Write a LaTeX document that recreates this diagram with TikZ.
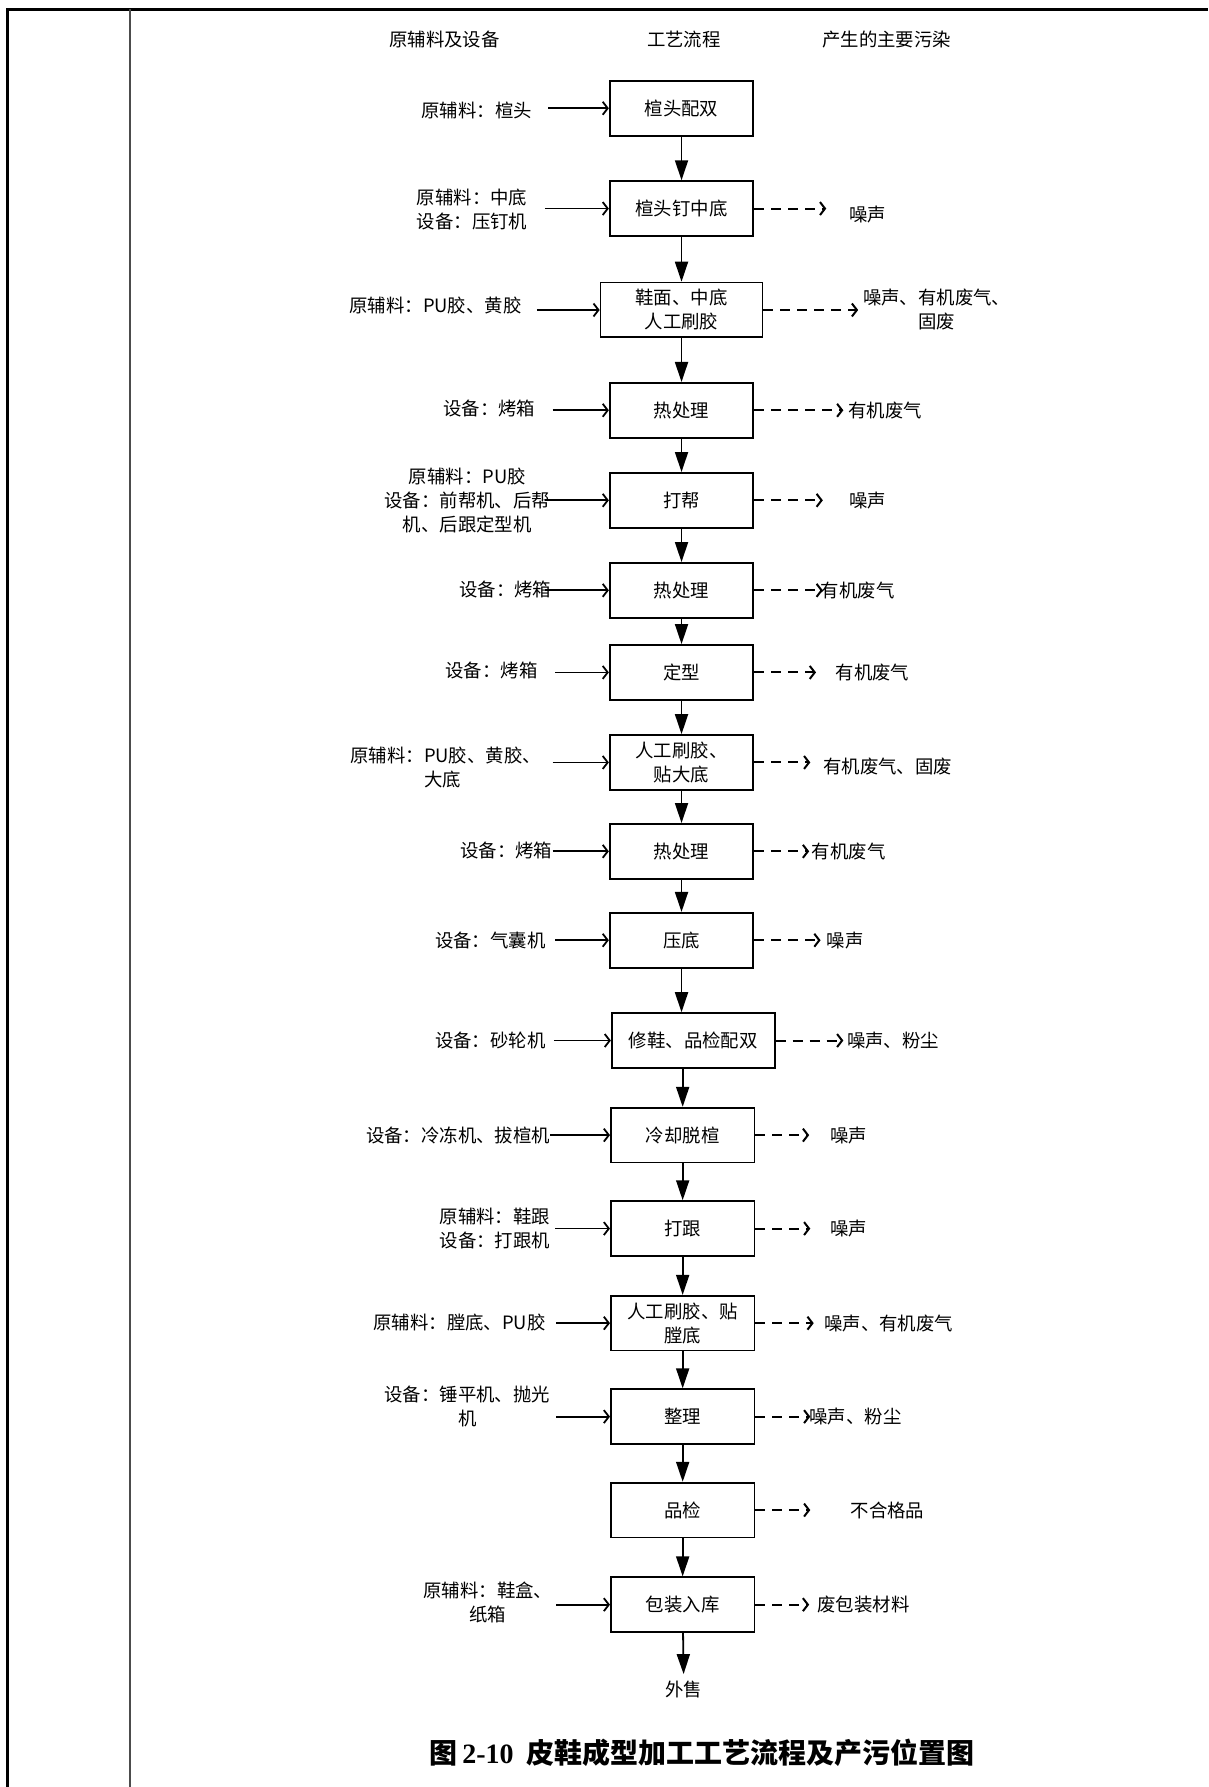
\documentclass[tikz,border=0pt]{standalone}
\usepackage{fontspec}
\setmainfont{Noto Sans CJK SC}
\newfontfamily\numfont{Liberation Serif}
\usetikzlibrary{arrows.meta}

\begin{document}
\begin{tikzpicture}[x=0.57pt, y=-0.57pt,
  every node/.style={font=\fontsize{9.2pt}{12pt}\selectfont, inner sep=0pt},
  stepbox/.style={draw, line width=0.9pt, minimum width=71.8pt, minimum height=27.4pt, align=center},
  flow/.style={-{Triangle[length=10pt,width=6.5pt]}, line width=0.9pt},
  feed/.style={-{Straight Barb[length=2.5pt,width=6.5pt]}, line width=0.9pt},
  waste/.style={-{Straight Barb[length=2.5pt,width=6.5pt]}, line width=1pt, dash pattern=on 5pt off 3.5pt},
  lab/.style={align=center}]
\useasboundingbox (0,0) rectangle (1060,1568);
% Table frame
\draw[line width=1.5pt] (7,1568) -- (7,8) -- (1060,8);
\draw[line width=1pt, black!70] (114,8) -- (114,1568);
% Column headers
\node (hin) at (390,35) {原辅料及设备};
\node (hstep) at (600,35) {工艺流程};
\node (hout) at (778,35) {产生的主要污染};
% Process steps
\node[stepbox] (b1) at (598,95) {楦头配双};
\node[stepbox] (b2) at (598,183) {楦头钉中底};
\node[stepbox, minimum width=81pt] (b3) at (598,272) {鞋面、中底\\人工刷胶};
\node[stepbox] (b4) at (598,360) {热处理};
\node[stepbox] (b5) at (598,439) {打帮};
\node[stepbox] (b6) at (598,518) {热处理};
\node[stepbox] (b7) at (598,590) {定型};
\node[stepbox] (b8) at (598,669) {人工刷胶、\\贴大底};
\node[stepbox] (b9) at (598,747) {热处理};
\node[stepbox] (b10) at (598,825) {压底};
\node[stepbox, minimum width=81.5pt, anchor=west] (b11) at (536,913) {修鞋、品检配双};
\node[stepbox] (b12) at (599,996) {冷却脱楦};
\node[stepbox] (b13) at (599,1078) {打跟};
\node[stepbox] (b14) at (599,1161) {人工刷胶、贴\\膛底};
\node[stepbox] (b15) at (599,1243) {整理};
\node[stepbox] (b16) at (599,1325) {品检};
\node[stepbox] (b17) at (599,1408) {包装入库};
\node[inner sep=3pt] (sale) at (600,1482) {外售};
% Main flow
\draw[flow] (b1) -- (b2);
\draw[flow] (b2) -- (b3);
\draw[flow] (b3) -- (b4);
\draw[flow] (b4) -- (b5);
\draw[flow] (b5) -- (b6);
\draw[flow] (b6) -- (b7);
\draw[flow] (b7) -- (b8);
\draw[flow] (b8) -- (b9);
\draw[flow] (b9) -- (b10);
\draw[flow] (b10.south) -- (b10.south |- b11.north);
\draw[flow] (b11.south -| b12.north) -- (b12.north);
\draw[flow] (b12) -- (b13);
\draw[flow] (b13) -- (b14);
\draw[flow] (b14) -- (b15);
\draw[flow] (b15) -- (b16);
\draw[flow] (b16) -- (b17);
\draw[flow] (b17) -- (sale);
% Raw materials and equipment
\node[lab, anchor=east] (in1) at (467,97) {原辅料：楦头};
\node[lab, anchor=east] (in2) at (463,184) {原辅料：中底\\设备：压钉机};
\node[lab, anchor=east] (in3) at (458,268) {原辅料：PU胶、黄胶};
\node[lab, anchor=east] (in4) at (470,358) {设备：烤箱};
\node[lab, anchor=east] (in5) at (483,439) {原辅料：PU胶\\设备：前帮机、后帮\\机、后跟定型机};
\node[lab, anchor=east] (in6) at (484,517) {设备：烤箱};
\node[lab, anchor=east] (in7) at (472,588) {设备：烤箱};
\node[align=left, anchor=east] (in8) at (475,673) {原辅料：PU胶、黄胶、\\\hphantom{原辅料：}大底};
\node[lab, anchor=east] (in9) at (485,746) {设备：烤箱};
\node[lab, anchor=east] (in10) at (479,825) {设备：气囊机};
\node[lab, anchor=east] (in11) at (479,913) {设备：砂轮机};
\node[lab, anchor=east] (in12) at (483,996) {设备：冷冻机、拔楦机};
\node[align=left, anchor=east] (in13) at (483,1078) {原辅料：鞋跟\\设备：打跟机};
\node[lab, anchor=east] (in14) at (479,1160) {原辅料：膛底、PU胶};
\node[lab, anchor=east] (in15) at (483,1234) {设备：锤平机、抛光\\机};
\node[lab, anchor=east] (in17) at (485,1406) {原辅料：鞋盒、\\纸箱};
\coordinate (s1) at (481,95);
\coordinate (s2) at (478,183);
\coordinate (s3) at (471,272);
\coordinate (s4) at (485,360);
\coordinate (s5) at (478,439);
\coordinate (s6) at (478,518);
\coordinate (s7) at (487,590);
\coordinate (s8) at (485,669);
\coordinate (s9) at (485,747);
\coordinate (s10) at (487,825);
\coordinate (s11) at (486,913);
\coordinate (s12) at (483,996);
\coordinate (s13) at (487,1078);
\coordinate (s14) at (488,1161);
\coordinate (s15) at (488,1243);
\coordinate (s17) at (488,1408);
\draw[feed] (s1) -- (b1);
\draw[feed] (s2) -- (b2);
\draw[feed] (s3) -- (b3);
\draw[feed] (s4) -- (b4);
\draw[feed] (s5) -- (b5);
\draw[feed] (s6) -- (b6);
\draw[feed] (s7) -- (b7);
\draw[feed] (s8) -- (b8);
\draw[feed] (s9) -- (b9);
\draw[feed] (s10) -- (b10);
\draw[feed] (s11) -- (b11);
\draw[feed] (s12) -- (b12);
\draw[feed] (s13) -- (b13);
\draw[feed] (s14) -- (b14);
\draw[feed] (s15) -- (b15);
\draw[feed] (s17) -- (b17);
% Pollutants
\coordinate (e2) at (725,183);
\coordinate (e3) at (753,272);
\coordinate (e4) at (740,360);
\coordinate (e5) at (722,439);
\coordinate (e6) at (722,518);
\coordinate (e7) at (716,590);
\coordinate (e8) at (711,669);
\coordinate (e9) at (710,747);
\coordinate (e10) at (720,825);
\coordinate (e11) at (740,913);
\coordinate (e12) at (710,996);
\coordinate (e13) at (711,1078);
\coordinate (e14) at (714,1161);
\coordinate (e15) at (711,1243);
\coordinate (e16) at (711,1325);
\coordinate (e17) at (710,1408);
\draw[waste] (b2) -- (e2);
\draw[waste] (b3) -- (e3);
\draw[waste] (b4) -- (e4);
\draw[waste] (b5) -- (e5);
\draw[waste] (b6) -- (e6);
\draw[waste] (b7) -- (e7);
\draw[waste] (b8) -- (e8);
\draw[waste] (b9) -- (e9);
\draw[waste] (b10) -- (e10);
\draw[waste] (b11) -- (e11);
\draw[waste] (b12) -- (e12);
\draw[waste] (b13) -- (e13);
\draw[waste] (b14) -- (e14);
\draw[waste] (b15) -- (e15);
\draw[waste] (b16) -- (e16);
\draw[waste] (b17) -- (e17);
\node[lab, anchor=west] (o2) at (745,188) {噪声};
\node[lab, anchor=west] (o3) at (757,272) {噪声、有机废气、\\固废};
\node[lab, anchor=west] (o4) at (744,360) {有机废气};
\node[lab, anchor=west] (o5) at (745,439) {噪声};
\node[lab, anchor=west] (o6) at (720,518) {有机废气};
\node[lab, anchor=west] (o7) at (733,590) {有机废气};
\node[lab, anchor=west] (o8) at (722,673) {有机废气、固废};
\node[lab, anchor=west] (o9) at (712,747) {有机废气};
\node[lab, anchor=west] (o10) at (725,825) {噪声};
\node[lab, anchor=west] (o11) at (743,913) {噪声、粉尘};
\node[lab, anchor=west] (o12) at (728,996) {噪声};
\node[lab, anchor=west] (o13) at (728,1078) {噪声};
\node[lab, anchor=west] (o14) at (723,1161) {噪声、有机废气};
\node[lab, anchor=west] (o15) at (710,1243) {噪声、粉尘};
\node[lab, anchor=west] (o16) at (746,1325) {不合格品};
\node[lab, anchor=west] (o17) at (717,1408) {废包装材料};
% Caption
\node[font=\fontsize{14pt}{16pt}\selectfont\bfseries] (cap) at (616,1538) {图\,{\numfont\bfseries 2-10}\ \ 皮鞋成型加工工艺流程及产污位置图};
\end{tikzpicture}
\end{document}
